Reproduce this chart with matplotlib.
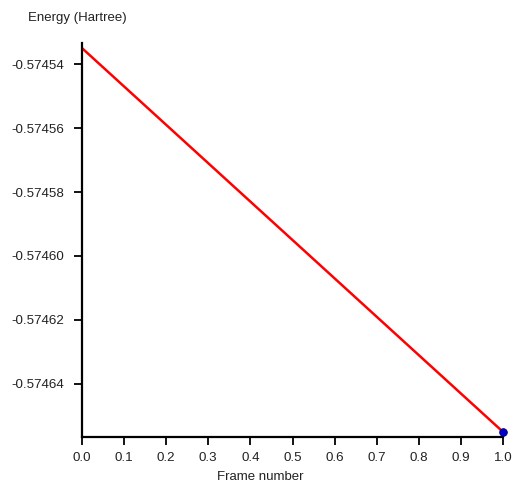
import numpy as np
import matplotlib
matplotlib.use("Agg")
import matplotlib.pyplot as plt

plt.rcParams['font.family'] = ['Liberation Sans', 'DejaVu Sans']

# energy along the path (frame number, Hartree)
frames = [0.0, 1.0]
energy = [-0.574535, -0.574655]
yticks = [-0.57454, -0.57456, -0.57458, -0.57460, -0.57462, -0.57464]
xticks = [0.0, 0.1, 0.2, 0.3, 0.4, 0.5, 0.6, 0.7, 0.8, 0.9, 1.0]

fig = plt.figure(figsize=(5.13, 4.82), dpi=100)
ax = fig.add_axes([82/513, 45/482, 421/513, 394/482])

ax.plot(frames, energy, color='red', lw=1.8, solid_capstyle='round')
ax.plot(frames[-1], energy[-1], 'o', color='#0000cc', ms=5.5, mec='#000066', mew=0.6, clip_on=False, zorder=5)

ax.set_xlim(0, 1.0)
ax.set_ylim(-0.5746566, -0.5745334)
ax.set_xticks(xticks)
ax.set_xticklabels([f"{v:.1f}" for v in xticks])
ax.set_yticks(yticks)
ax.set_yticklabels([f"{v:.5f}" for v in yticks])

for s in ['top', 'right']:
    ax.spines[s].set_visible(False)
for s in ['left', 'bottom']:
    ax.spines[s].set_linewidth(1.6)
ax.tick_params(direction='out', length=6, width=1.3, labelsize=9.6, colors='black', labelcolor='#222222')
ax.tick_params(axis='x', pad=5)
ax.tick_params(axis='y', pad=7)

fig.text(28/513, 1 - 18/482, "Energy (Hartree)", fontsize=9.5, va='center', ha='left', color='#222222')
fig.text(260/513, 1 - 477/482, "Frame number", fontsize=9.5, va='center', ha='center', color='#222222')

fig.savefig("out.png", dpi=100)
